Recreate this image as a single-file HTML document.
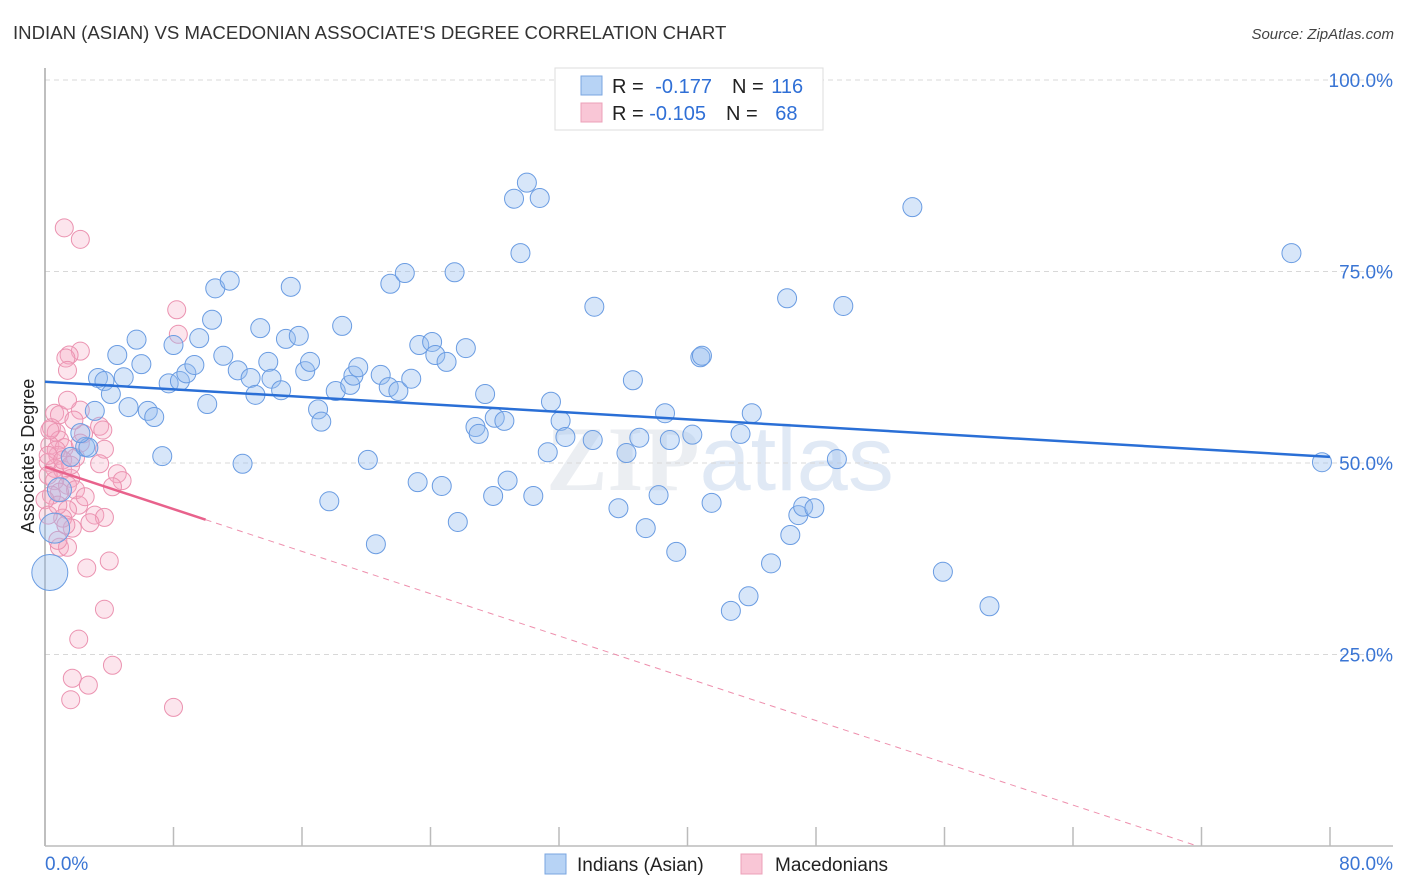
<!DOCTYPE html>
<html><head><meta charset="utf-8"><style>
body{margin:0;background:#fff;font-family:"Liberation Sans",sans-serif}
svg{display:block}
</style></head><body>
<svg id="chart" width="1406" height="892" viewBox="0 0 1406 892" xmlns="http://www.w3.org/2000/svg">
<text x="13" y="39" font-size="18.6" fill="#333">INDIAN (ASIAN) VS MACEDONIAN ASSOCIATE'S DEGREE CORRELATION CHART</text>
<text x="1394" y="39" font-size="15" fill="#444" text-anchor="end" font-style="italic">Source: ZipAtlas.com</text>
<text x="720" y="490" font-size="92" text-anchor="middle" fill="#ebeef2" font-family="Liberation Serif,serif" font-weight="bold">ZIP<tspan fill="#e0e9f5" font-family="Liberation Sans,sans-serif" font-weight="normal">atlas</tspan></text>
<g id="grid"></g>
<g id="axes"></g>
<g id="pts"></g>
<g id="trend"></g>
<text transform="translate(34,456) rotate(-90)" font-size="18" fill="#222" text-anchor="middle">Associate's Degree</text>
<g>
<rect x="555" y="68" width="268" height="62" fill="#fff" stroke="#ddd"/>
<rect x="581" y="76" width="21" height="19" fill="#b7d3f5" stroke="#7aa6e0"/>
<rect x="581" y="103" width="21" height="19" fill="#f9c6d6" stroke="#eca0b8"/>
<text x="612" y="93" font-size="20" fill="#222">R = <tspan fill="#2f6fd6" dx="6">-0.177</tspan><tspan dx="20" fill="#222">N = </tspan><tspan fill="#2f6fd6" dx="2">116</tspan></text>
<text x="612" y="120" font-size="20" fill="#222">R = <tspan fill="#2f6fd6">-0.105</tspan><tspan dx="20" fill="#222">N = </tspan><tspan fill="#2f6fd6" dx="12">68</tspan></text>
</g>
<g>
<rect x="545" y="854" width="21" height="20" fill="#b7d3f5" stroke="#7aa6e0"/>
<text x="577" y="871" font-size="19" fill="#222">Indians (Asian)</text>
<rect x="741" y="854" width="21" height="20" fill="#f9c6d6" stroke="#eca0b8"/>
<text x="775" y="871" font-size="19" fill="#222">Macedonians</text>
</g>
</svg>
<script>
const xTickLabels=["0.0%","80.0%"];
const yTickValues=[25,50,75,100];
const yTickLabels=["25.0%","50.0%","75.0%","100.0%"];
const blueX=[0.3,0.6,0.9,1.6,2.5,2.7,2.2,3.1,3.3,3.7,4.1,4.9,4.5,5.7,6.0,5.2,6.4,6.8,7.3,7.7,8.4,8.0,8.8,9.3,9.6,10.1,10.4,10.6,11.5,11.1,12.0,12.3,12.8,13.1,13.4,13.9,14.1,14.7,15.0,15.3,15.8,16.2,16.5,17.0,17.2,17.7,18.1,18.5,19.0,19.2,19.5,20.1,20.6,20.9,21.4,21.5,22.0,22.4,22.8,23.2,23.3,24.1,24.3,24.7,25.0,25.5,25.7,26.2,26.8,27.0,27.4,27.9,28.0,28.6,28.8,29.2,29.6,30.0,30.4,30.8,31.3,31.5,32.1,32.4,34.1,34.2,35.7,36.2,36.6,37.0,37.4,38.2,38.6,38.9,39.3,40.3,40.8,40.9,41.5,42.7,43.3,43.8,44.0,45.2,46.2,46.4,46.9,47.2,47.9,49.3,49.7,54.0,55.9,58.8,77.6,79.5];
const blueY=[35.7,41.5,46.5,50.8,52.1,52.0,53.9,56.8,61.1,60.7,59.0,61.2,64.1,66.1,62.9,57.3,56.8,56.0,50.9,60.4,60.7,65.4,61.7,62.8,66.3,57.7,68.7,72.8,73.8,64.0,62.1,49.9,61.1,58.9,67.6,63.2,61.0,59.5,66.2,73.0,66.6,62.0,63.2,57.0,55.4,45.0,59.4,67.9,60.2,61.4,62.5,50.4,39.4,61.5,59.9,73.4,59.4,74.8,61.0,47.5,65.4,65.8,64.1,47.0,63.2,74.9,42.3,65.0,54.7,53.8,59.0,45.7,55.9,55.5,47.7,84.5,77.4,86.6,45.7,84.6,51.4,58.0,55.5,53.4,53.0,70.4,44.1,51.3,60.8,53.3,41.5,45.8,56.5,53.0,38.4,53.7,63.8,64.0,44.8,30.7,53.8,32.6,56.5,36.9,71.5,40.6,43.2,44.3,44.1,50.5,70.5,83.4,35.8,31.3,77.4,50.1];
const blueBig=[18,15,12];
const pinkX=[1.2,2.2,8.2,8.3,2.2,1.5,1.3,1.4,0.6,0.9,2.2,3.4,3.6,2.4,0.4,0.7,0.9,0.3,1.2,3.7,0.8,1.9,3.4,0.2,0.6,1.1,0.2,1.6,0.6,4.5,4.8,4.2,1.4,1.9,0.9,2.1,1.4,3.1,3.7,2.8,1.7,1.1,0.9,1.4,2.6,4.0,3.7,2.1,4.2,1.7,2.7,1.6,8.0,0.7,0.3,0.4,0.8,0.2,1.1,1.6,1.8,1.4,2.2,2.5,0.0,1.3,0.8,0.2];
const pinkY=[80.7,79.2,70.0,66.8,64.6,64.1,63.7,62.1,56.5,56.3,56.9,54.8,54.3,53.8,54.6,54.0,53.0,52.3,52.0,51.8,51.0,50.7,49.9,50.1,49.3,49.1,48.4,48.0,47.7,48.6,47.7,46.9,47.1,46.5,46.2,44.5,43.9,43.2,42.9,42.2,41.5,42.8,39.0,39.0,36.3,37.2,30.9,27.0,23.6,21.9,21.0,19.1,18.1,51.7,54.3,45.8,44.5,51.0,50.4,49.7,55.6,58.2,52.6,45.6,45.2,41.9,39.9,43.2];
const blueTrend=[60.6,50.8];
const pinkTrend=[49.5,-0.69];
const pinkSolidEnd=10;

const X0=45,X1=1330,Y0=846,Y1=80;
const sx=v=>X0+(X1-X0)*v/80;
const sy=v=>Y0-(Y0-Y1)*v/100;
const NS="http://www.w3.org/2000/svg";
function mk(tag,attrs,parent){const e=document.createElementNS(NS,tag);for(const k in attrs)e.setAttribute(k,attrs[k]);parent.appendChild(e);return e;}
const grid=document.getElementById('grid'),axes=document.getElementById('axes'),pts=document.getElementById('pts'),trend=document.getElementById('trend');
yTickValues.forEach((v,i)=>{
 const l=mk('line',{x1:X0,x2:1393,y1:sy(v),y2:sy(v),stroke:'#d8d8d8','stroke-dasharray':'5,4'},grid);
 
 
 const t=mk('text',{x:1393,y:sy(v)+7,'font-size':19,fill:'#3a75d4','text-anchor':'end'},grid);
 t.textContent=yTickLabels[i];
 
 
});
const ax=mk('line',{x1:X0,x2:X0,y1:68,y2:Y0,stroke:'#aaa','stroke-width':1.5},axes);


const bx=mk('line',{x1:X0,x2:1393,y1:Y0,y2:Y0,stroke:'#bbb','stroke-width':1.5},axes);


for(let v=8;v<=80;v+=8){
 const t=mk('line',{x1:sx(v),x2:sx(v),y1:Y0-19,y2:Y0,stroke:'#bbb','stroke-width':1.5},axes);
 
 
}
const xl0=mk('text',{x:X0,y:870,'font-size':19,fill:'#3a75d4'},axes);xl0.textContent=xTickLabels[0];


const xl1=mk('text',{x:1393,y:870,'font-size':19,fill:'#3a75d4','text-anchor':'end'},axes);xl1.textContent=xTickLabels[1];


pinkX.forEach((v,i)=>{
 const c=mk('circle',{cx:sx(v),cy:sy(pinkY[i]),r:9,fill:'rgba(246,168,194,0.3)',stroke:'#eb92b0','stroke-width':1},pts);
 
 
});
blueX.forEach((v,i)=>{
 const r=i<blueBig.length?blueBig[i]:9.5;
 const c=mk('circle',{cx:sx(v),cy:sy(blueY[i]),r:r,fill:'rgba(150,188,238,0.38)',stroke:'#6a9ce2','stroke-width':1},pts);
 
 
});
const bl=mk('line',{x1:sx(0),y1:sy(blueTrend[0]),x2:sx(80),y2:sy(blueTrend[1]),stroke:'#2a6fd6','stroke-width':2.5},trend);


const pf=x=>pinkTrend[0]+pinkTrend[1]*x;
const ps=mk('line',{x1:sx(0),y1:sy(pf(0)),x2:sx(pinkSolidEnd),y2:sy(pf(pinkSolidEnd)),stroke:'#e8628c','stroke-width':2.5},trend);


const xEnd=-pinkTrend[0]/pinkTrend[1];
const pd=mk('line',{x1:sx(pinkSolidEnd),y1:sy(pf(pinkSolidEnd)),x2:sx(xEnd),y2:sy(0),stroke:'#ee8fad','stroke-width':1,'stroke-dasharray':'6,5'},trend);


</script>
</body></html>
